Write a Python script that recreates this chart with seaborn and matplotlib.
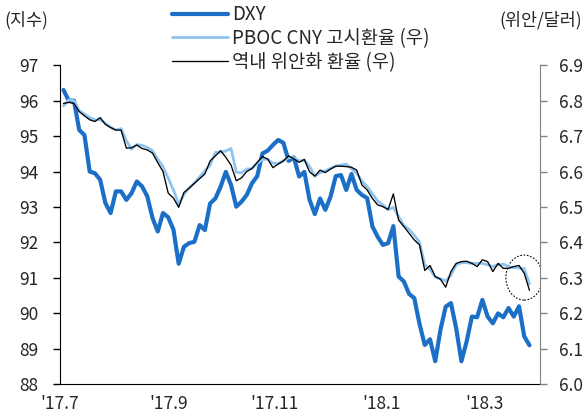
import pandas as pd
import seaborn as sns
import matplotlib.pyplot as plt
import matplotlib.dates as mdates
from matplotlib.patches import Ellipse

# every third day, 2017-07-03 .. 2018-03-27
dates = pd.date_range('2017-07-03', periods=90, freq='3D')

dxy = [96.3, 96.0, 96.0, 95.17, 95.03, 94.0, 93.95, 93.77, 93.11, 92.83,
       93.44, 93.44, 93.2, 93.39, 93.72, 93.58, 93.3, 92.69, 92.31, 92.83,
       92.71, 92.36, 91.4, 91.88, 91.98, 92.02, 92.49, 92.35, 93.1, 93.24,
       93.57, 93.99, 93.62, 93.01, 93.15, 93.34, 93.67, 93.87, 94.51, 94.59,
       94.75, 94.89, 94.81, 94.3, 94.4, 93.86, 93.99, 93.2, 92.8, 93.24,
       92.92, 93.29, 93.87, 93.9, 93.48, 93.93, 93.48, 93.34, 93.25, 92.45,
       92.16, 91.93, 91.98, 92.46, 91.04, 90.9, 90.55, 90.43, 89.7, 89.11,
       89.27, 88.65, 89.54, 90.19, 90.29, 89.58, 88.65, 89.21, 89.91, 89.89,
       90.38, 89.91, 89.72, 90.0, 89.89, 90.15, 89.91, 90.2, 89.35, 89.1]

pboc = [6.785, 6.802, 6.8, 6.772, 6.762, 6.752, 6.746, 6.746, 6.736, 6.725,
        6.717, 6.721, 6.687, 6.663, 6.676, 6.674, 6.668, 6.659, 6.635, 6.614,
        6.581, 6.548, 6.507, 6.535, 6.554, 6.567, 6.585, 6.602, 6.618, 6.654,
        6.654, 6.658, 6.665, 6.598, 6.596, 6.607, 6.608, 6.623, 6.634, 6.635,
        6.623, 6.623, 6.63, 6.639, 6.64, 6.63, 6.632, 6.614, 6.587, 6.597,
        6.602, 6.609, 6.616, 6.618, 6.621, 6.608, 6.595, 6.573, 6.557, 6.537,
        6.517, 6.506, 6.492, 6.499, 6.473, 6.448, 6.437, 6.42, 6.401, 6.337,
        6.324, 6.302, 6.298, 6.291, 6.308, 6.337, 6.343, 6.343, 6.341, 6.341,
        6.341, 6.337, 6.332, 6.337, 6.339, 6.332, 6.329, 6.328, 6.326, 6.283]

cny = [6.792, 6.795, 6.792, 6.769, 6.757, 6.746, 6.741, 6.752, 6.733, 6.724,
       6.717, 6.717, 6.666, 6.667, 6.675, 6.665, 6.661, 6.652, 6.625, 6.6,
       6.539, 6.525, 6.499, 6.541, 6.553, 6.567, 6.58, 6.593, 6.63, 6.644,
       6.659, 6.64, 6.618, 6.574, 6.582, 6.6, 6.609, 6.626, 6.642, 6.635,
       6.611, 6.621, 6.63, 6.644, 6.636, 6.626, 6.634, 6.599, 6.587, 6.604,
       6.597, 6.607, 6.615, 6.615, 6.614, 6.612, 6.604, 6.562, 6.548, 6.524,
       6.506, 6.501, 6.493, 6.537, 6.463, 6.445, 6.426, 6.407, 6.393, 6.321,
       6.335, 6.304, 6.296, 6.274, 6.318, 6.341, 6.346, 6.347, 6.341, 6.332,
       6.351, 6.346, 6.318, 6.341, 6.327, 6.327, 6.332, 6.335, 6.313, 6.265]

tick_dates = ['2017-07-01', '2017-09-01', '2017-11-01', '2018-01-01', '2018-03-01']
tick_labels = ["'17.7", "'17.9", "'17.11", "'18.1", "'18.3"]

labels = ['DXY', 'PBOC CNY 고시환율 (우)', '역내 위안화 환율 (우)']

df = pd.DataFrame({'date': dates, 'dxy': dxy, 'pboc': pboc, 'cny': cny})

sns.set_style('white')
plt.rcParams['font.family'] = ['Noto Sans CJK KR', 'DejaVu Sans']

fig, ax = plt.subplots(figsize=(5.85, 4.15), dpi=100)
fig.subplots_adjust(left=0.1026, right=0.923, top=0.843, bottom=0.074)

sns.lineplot(data=df, x='date', y='dxy', ax=ax, color='#1c6fc6', linewidth=3.0, label=labels[0], legend=False)
ax2 = ax.twinx()
sns.lineplot(data=df, x='date', y='pboc', ax=ax2, color='#8fc4f0', linewidth=2.0, label=labels[1], legend=False)
sns.lineplot(data=df, x='date', y='cny', ax=ax2, color='black', linewidth=0.95, label=labels[2], legend=False)

ax.set_xlim(pd.Timestamp('2017-07-01'), pd.Timestamp('2018-04-02'))
ax.set_ylim(88, 97)
ax2.set_ylim(6.0, 6.9)
ax.set_yticks(range(88, 98))
ax2.set_yticks([6.0 + i * 0.1 for i in range(10)])
ax2.set_yticklabels([f'{6.0 + i * 0.1:.1f}' for i in range(10)])
ax.set_xticks(pd.to_datetime(tick_dates))
ax.set_xticklabels(tick_labels)
ax.set_xlabel('')
ax.set_ylabel('')
ax2.set_ylabel('')

for a in (ax, ax2):
    a.spines['top'].set_visible(False)
ax.spines['right'].set_visible(False)
ax2.spines['left'].set_visible(False)
ax2.spines['bottom'].set_visible(False)
ax.spines['left'].set_color('black')
ax.spines['bottom'].set_color('black')
ax2.spines['right'].set_color('#808080')
ax.tick_params(axis='both', direction='out', length=5, width=1, color='black', labelsize=12.5)
ax.tick_params(axis='y', pad=10.5)
ax.tick_params(axis='x', pad=3)
ax2.tick_params(axis='y', direction='out', length=5, width=1, color='#808080', labelsize=12.5, pad=8.5)

# dashed circle around the latest move
ell = Ellipse((mdates.date2num(pd.Timestamp('2018-03-24')), 6.301), width=21, height=0.127,
              fill=False, edgecolor='black', linestyle=(0, (1.5, 1.5)), linewidth=0.8)
ax2.add_patch(ell)

fig.text(0.008, 0.952, '(지수)', fontsize=12.5, va='center', ha='left')
fig.text(0.995, 0.952, '(위안/달러)', fontsize=12.5, va='center', ha='right')

h1, l1 = ax.get_legend_handles_labels()
h2, l2 = ax2.get_legend_handles_labels()
fig.legend(h1 + h2, l1 + l2, loc='upper left', bbox_to_anchor=(0.294, 0.99), frameon=False,
           fontsize=13.5, handlelength=3.0, handletextpad=0.2, labelspacing=0.15, borderpad=0,
           borderaxespad=0)

fig.savefig('out.png', dpi=100)
